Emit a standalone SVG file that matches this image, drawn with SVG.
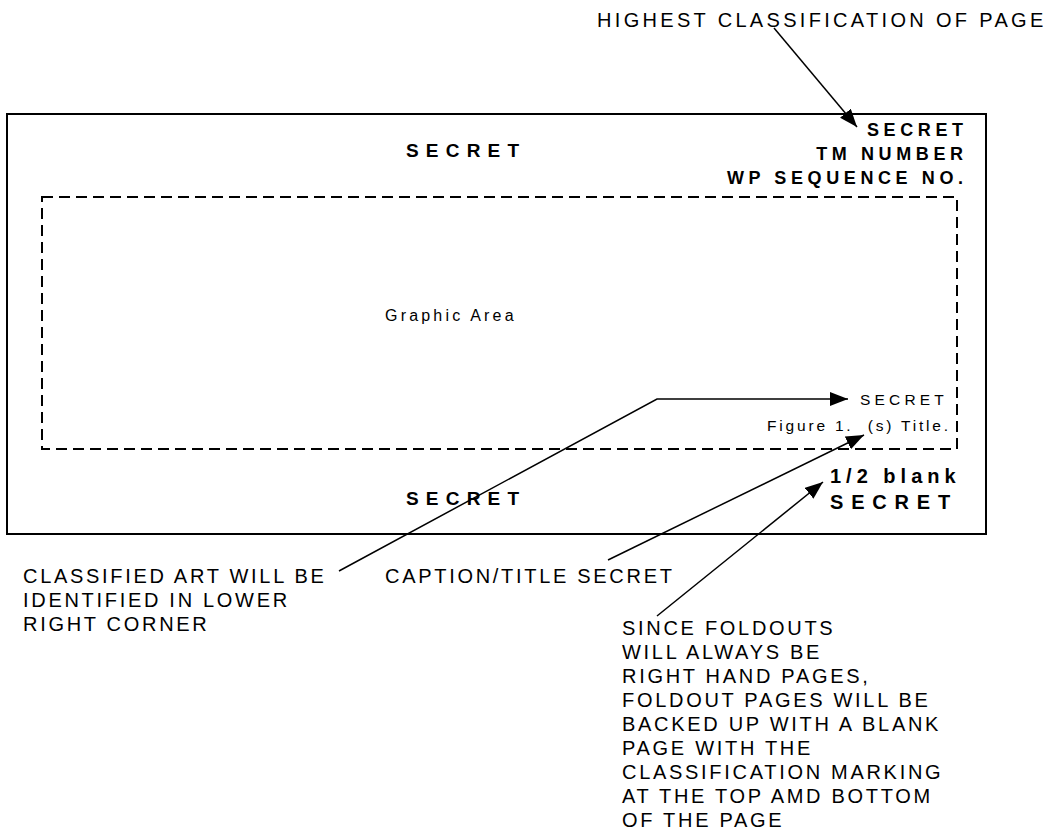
<svg xmlns="http://www.w3.org/2000/svg" width="1048" height="832" viewBox="0 0 1048 832">
<style>
text{font-family:"Liberation Sans",Arial,sans-serif;fill:#000}
.a{font-size:20px;letter-spacing:2.7px}
.b{font-size:18px;font-weight:bold;letter-spacing:4.6px}
.c{font-size:19px;font-weight:bold;letter-spacing:7.2px}
.d{font-size:20px;font-weight:bold}
.s{font-size:15.5px;letter-spacing:2.8px}
.frame{fill:none;stroke:#000;stroke-width:2}
.dash{fill:none;stroke:#000;stroke-width:2;stroke-dasharray:11 6}
.conn{fill:none;stroke:#000;stroke-width:1.5}
</style>
<defs>
<marker id="ah" markerUnits="userSpaceOnUse" markerWidth="20" markerHeight="16" refX="18" refY="7" orient="auto">
<path d="M0,0 L18,7 L0,14 z" fill="#000"/>
</marker>
</defs>
<g id="page">
<rect class="frame" x="7" y="114" width="979" height="420"/>
<text class="c" x="406" y="157">SECRET</text>
<text class="c" x="406" y="505">SECRET</text>
<text class="b" x="967.6" y="136" text-anchor="end">SECRET</text>
<text class="b" x="967.6" y="160" text-anchor="end">TM NUMBER</text>
<text class="b" x="967.6" y="184" text-anchor="end">WP SEQUENCE NO.</text>
<text class="d" x="830" y="483" style="letter-spacing:5px">1/2 blank</text>
<text class="d" x="830" y="509" style="letter-spacing:7.8px">SECRET</text>
</g>
<g id="graphic-area">
<rect class="dash" x="42" y="197" width="915" height="252"/>
<text class="s" x="385" y="321" style="font-size:16px;letter-spacing:3.2px">Graphic Area</text>
<text class="s" x="948" y="405" text-anchor="end" style="letter-spacing:4.2px">SECRET</text>
<text class="s" x="950.8" y="431" text-anchor="end" xml:space="preserve">Figure 1.  (s) Title.</text>
</g>
<g id="note-top">
<text class="a" x="597" y="27" textLength="449" lengthAdjust="spacing">HIGHEST CLASSIFICATION OF PAGE</text>
</g>
<g id="note-art">
<text class="a" x="23" y="583">CLASSIFIED ART WILL BE</text>
<text class="a" x="23" y="607">IDENTIFIED IN LOWER</text>
<text class="a" x="23" y="631">RIGHT CORNER</text>
</g>
<g id="note-caption">
<text class="a" x="385" y="583">CAPTION/TITLE SECRET</text>
</g>
<g id="note-foldout">
<text class="a" x="622" y="635">SINCE FOLDOUTS</text>
<text class="a" x="622" y="659">WILL ALWAYS BE</text>
<text class="a" x="622" y="683">RIGHT HAND PAGES,</text>
<text class="a" x="622" y="707">FOLDOUT PAGES WILL BE</text>
<text class="a" x="622" y="731">BACKED UP WITH A BLANK</text>
<text class="a" x="622" y="755">PAGE WITH THE</text>
<text class="a" x="622" y="779">CLASSIFICATION MARKING</text>
<text class="a" x="622" y="803">AT THE TOP AMD BOTTOM</text>
<text class="a" x="622" y="827">OF THE PAGE</text>
</g>
<g id="connectors">
<line class="conn" x1="774" y1="28" x2="857" y2="127" marker-end="url(#ah)"/>
<polyline class="conn" points="339,571 657,399 848,399" marker-end="url(#ah)"/>
<line class="conn" x1="608" y1="560" x2="864" y2="435" marker-end="url(#ah)"/>
<line class="conn" x1="657" y1="616" x2="823" y2="482" marker-end="url(#ah)"/>
</g>
</svg>
